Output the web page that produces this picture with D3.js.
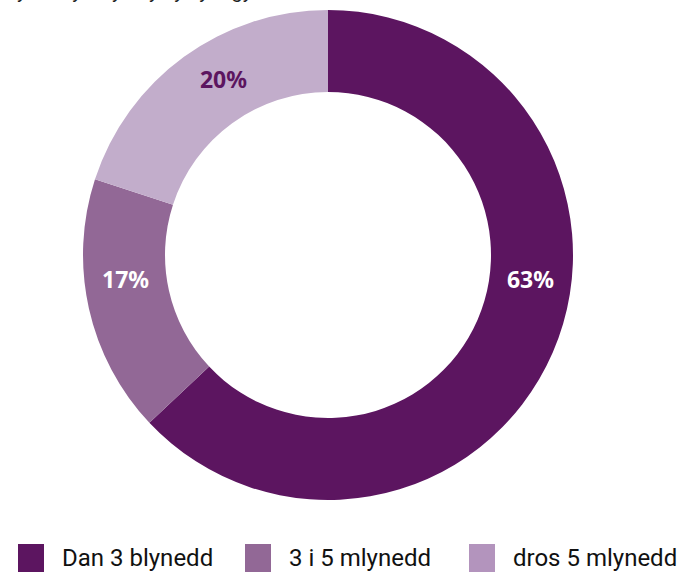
<!DOCTYPE html>
<html>
<head>
<meta charset="utf-8">
<title>Donut</title>
<style>
body {
    margin: 0px;
    overflow: hidden;
    background: #fff;
}
</style>
<script src="https://cdnjs.cloudflare.com/ajax/libs/d3/7.8.5/d3.min.js"></script>
</head>
<body>
<div id="chart"></div>
<script>

var categories = ["Dan 3 blynedd", "3 i 5 mlynedd", "dros 5 mlynedd"];
var values = [63, 17, 20];
var sliceColours = ["#5c1560", "#926896", "#c2adcb"];
var legendColours = ["#5c1560", "#926896", "#b394bd"];
var labelColours = ["#ffffff", "#ffffff", "#5c1560"];

var width = 698,
    height = 572;

var svg = d3.select("#chart").append("svg")
        .attr("width", width)
        .attr("height", height);

// title sits mostly above the top edge, as in the cropped picture
svg.append("text")
    .attr("x", 4)
    .attr("y", -2)
    .attr("font-family", "Roboto, sans-serif")
    .attr("font-size", 20)
    .attr("fill", "#222")
    .text("Cyfnod y swydd yn y cyflogydd");

var cx = 328, cy = 255,
    outerR = 245, innerR = 163,
    midR = (innerR + outerR) / 2;

var pie = d3.pie().sort(null).value(function (d) { return d; });
var arc = d3.arc().innerRadius(innerR).outerRadius(outerR);
var labelArc = d3.arc().innerRadius(midR).outerRadius(midR);

var g = svg.append("g").attr("transform", "translate(" + cx + "," + cy + ")");
var arcs = pie(values);

g.selectAll("path")
    .data(arcs)
    .enter().append("path")
    .attr("d", arc)
    .attr("fill", function (d, i) { return sliceColours[i]; });

g.selectAll("text")
    .data(arcs)
    .enter().append("text")
    .attr("transform", function (d) {
        var c = labelArc.centroid(d);
        // side labels slide along the ring toward the horizontal
        var a = (d.startAngle + d.endAngle) / 2;
        if (Math.abs(Math.cos(a)) < 0.5) {
            c[1] = 25;
            c[0] = Math.sign(c[0]) * Math.sqrt(midR * midR - 25 * 25);
        } else {
            a += 0.09;
            c = [Math.sin(a) * midR, -Math.cos(a) * midR];
        }
        return "translate(" + c + ")";
    })
    .attr("text-anchor", "middle")
    .attr("dy", "0.35em")
    .attr("font-family", "'Noto Sans', sans-serif")
    .attr("font-weight", "bold")
    .attr("font-size", 23)
    .attr("fill", function (d, i) { return labelColours[i]; })
    .text(function (d) { return d.data + "%"; });

var legendX = [18, 245, 469];
var legend = svg.selectAll(".legend")
    .data(categories)
    .enter().append("g")
    .attr("class", "legend")
    .attr("transform", function (d, i) { return "translate(" + legendX[i] + ",544)"; });

legend.append("rect")
    .attr("width", 26)
    .attr("height", 28)
    .attr("fill", function (d, i) { return legendColours[i]; });

legend.append("text")
    .attr("x", 44)
    .attr("y", 22)
    .attr("font-family", "Roboto, sans-serif")
    .attr("font-size", 24)
    .attr("fill", "#111")
    .text(function (d) { return d; });

</script>
</body>
</html>
